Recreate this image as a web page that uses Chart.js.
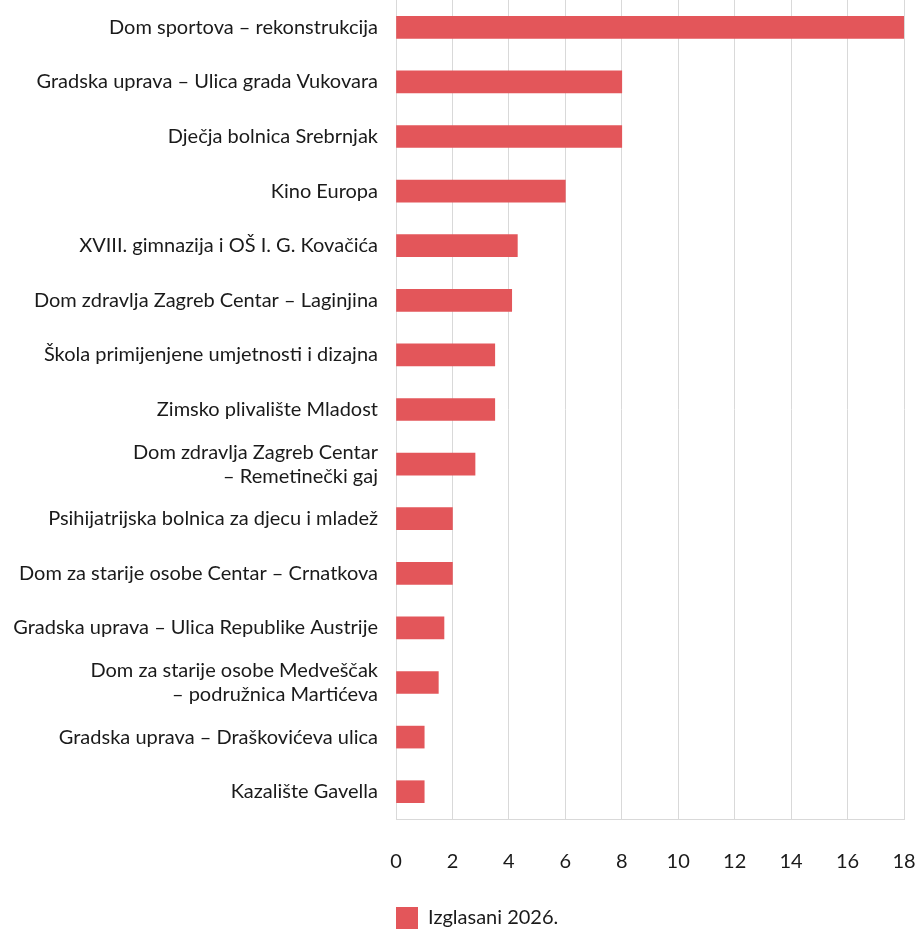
<!DOCTYPE html>
<html>
<head>
<meta charset="utf-8">
<script src="https://cdn.jsdelivr.net/npm/chart.js@4"></script>
<style>
  html, body { margin: 0; padding: 0; background: #fff; }
  #wrap { width: 919px; height: 933px; position: relative; }
</style>
</head>
<body>
<div id="wrap"><canvas id="chart"></canvas></div>
<script>
// ── DATA ─────────────────────────────────────────────────────
const categories = [
  'Dom sportova – rekonstrukcija',
  'Gradska uprava – Ulica grada Vukovara',
  'Dječja bolnica Srebrnjak',
  'Kino Europa',
  'XVIII. gimnazija i OŠ I. G. Kovačića',
  'Dom zdravlja Zagreb Centar – Laginjina',
  'Škola primijenjene umjetnosti i dizajna',
  'Zimsko plivalište Mladost',
  ['Dom zdravlja Zagreb Centar', '– Remetinečki gaj'],
  'Psihijatrijska bolnica za djecu i mladež',
  'Dom za starije osobe Centar – Crnatkova',
  'Gradska uprava – Ulica Republike Austrije',
  ['Dom za starije osobe Medveščak', '– podružnica Martićeva'],
  'Gradska uprava – Draškovićeva ulica',
  'Kazalište Gavella',
];
const seriesLabel = 'Izglasani 2026.';
const values = [18, 8, 8, 6, 4.3, 4.1, 3.5, 3.5, 2.8, 2, 2, 1.7, 1.5, 1, 1];
const xTicks = { min: 0, max: 18, step: 2 };

const FONT = 'Lato';
const TEXT = '#1a1a1a';
const RED = '#e3565a';
const GRID = '#d9d9d9';

new Chart(document.getElementById('chart'), {
  type: 'bar',
  data: {
    labels: categories,
    datasets: [{
      label: seriesLabel,
      data: values,
      backgroundColor: RED,
      borderWidth: 0,
      barThickness: 22,
    }],
  },
  options: {
    indexAxis: 'y',
    responsive: true,
    maintainAspectRatio: false,
    animation: false,
    layout: { padding: { top: 0, right: 15, bottom: -6, left: 0 } },
    plugins: {
      tooltip: { enabled: false },
      legend: {
        position: 'bottom',
        align: 'start',
        fullSize: false,
        labels: {
          color: TEXT,
          font: { family: FONT, size: 20 },
          boxWidth: 22,
          boxHeight: 22,
          padding: 0,
        },
      },
    },
    scales: {
      x: {
        min: xTicks.min,
        max: xTicks.max,
        grid: { color: GRID, drawTicks: false },
        border: { color: GRID },
        ticks: {
          stepSize: xTicks.step,
          color: TEXT,
          padding: 31,
          font: { family: FONT, size: 20 },
        },
        afterFit: (s) => { s.height = 88; s.paddingLeft = 0; s.paddingRight = 0; },
      },
      y: {
        grid: { display: false, drawTicks: false },
        border: { display: false },
        ticks: {
          color: TEXT,
          padding: 18,
          font: { family: FONT, size: 20 },
        },
        afterFit: (s) => { s.width = 396; s.paddingTop = 0; s.paddingBottom = 0; },
      },
    },
  },
});
</script>
</body>
</html>
